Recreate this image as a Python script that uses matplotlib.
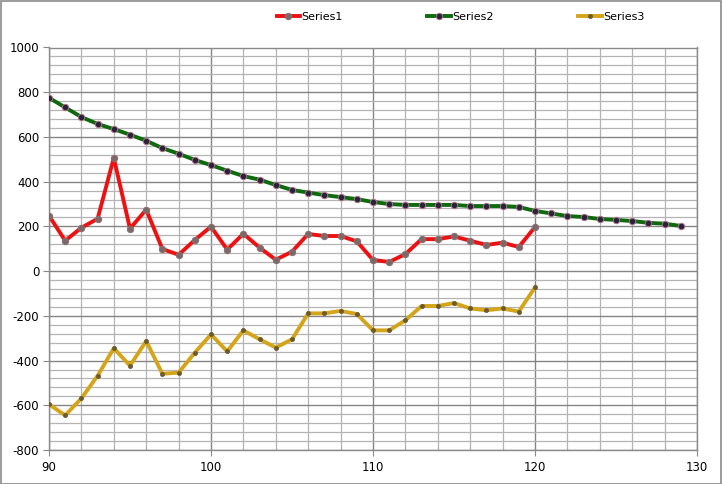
import matplotlib
matplotlib.use("Agg")
import matplotlib.pyplot as plt
from matplotlib.ticker import MultipleLocator
from matplotlib.patches import Rectangle

plt.rcParams['axes.unicode_minus'] = False
plt.rcParams['font.family'] = ['DejaVu Sans']

x_s1 = list(range(90, 121))
series1 = [248, 136, 194, 234, 506, 190, 275, 99, 73, 139, 199, 96, 167, 105, 51,
           87, 166, 157, 157, 133, 50, 41, 76, 143, 143, 155, 136, 117, 127, 108, 197]

x_s2 = list(range(90, 130))
series2 = [775, 732, 689, 658, 635, 610, 583, 550, 525, 497, 474, 449, 425, 409, 385,
           363, 351, 340, 331, 322, 309, 300, 296, 296, 296, 296, 291, 291, 291, 287,
           269, 258, 246, 242, 233, 229, 224, 216, 212, 202]

x_s3 = list(range(90, 121))
series3 = [-596, -645, -569, -468, -345, -423, -313, -459, -454, -365, -283, -359, -265,
           -305, -342, -305, -189, -189, -178, -192, -265, -265, -220, -156, -156, -143,
           -167, -175, -167, -181, -73]

labels = ["Series1", "Series2", "Series3"]

W, H = 722, 484
fig = plt.figure(figsize=(W / 100, H / 100), dpi=100)
left, right, top, bottom = 49, 697, 47.5, 450
ax = fig.add_axes([left / W, 1 - bottom / H, (right - left) / W, (bottom - top) / H])

ax.set_xlim(90, 130)
ax.set_ylim(-800, 1000)
ax.xaxis.set_major_locator(MultipleLocator(10))
ax.xaxis.set_minor_locator(MultipleLocator(2))
ax.yaxis.set_major_locator(MultipleLocator(200))
ax.yaxis.set_minor_locator(MultipleLocator(40))
ax.grid(which='minor', color='#b4b4b4', linewidth=0.9)
ax.grid(which='major', color='#858585', linewidth=1.0)
ax.set_axisbelow(True)
for s in ax.spines.values():
    s.set_color('#8a8a8a')
    s.set_linewidth(1.0)
ax.tick_params(which='minor', length=0)
ax.tick_params(which='major', length=4, color='#8a8a8a', labelsize=8.5, pad=3)
ax.tick_params(axis='x', pad=4)

ax.plot(x_s1, series1, color='#ee1111', linewidth=2.8, marker='o', markersize=4.6,
        markerfacecolor='#7c6868', markeredgecolor='#8a7070', markeredgewidth=0.7,
        label=labels[0], zorder=3)
ax.plot(x_s2, series2, color='#0d6a0d', linewidth=2.8, marker='o', markersize=4.6,
        markerfacecolor='#2a2040', markeredgecolor='#b07080', markeredgewidth=0.7,
        label=labels[1], zorder=3)
ax.plot(x_s3, series3, color='#d4a419', linewidth=2.8, marker='o', markersize=3,
        markerfacecolor='#6b5a30', markeredgecolor='#6b5a30', markeredgewidth=0.5,
        label=labels[2], zorder=3)

leg = fig.legend(loc='center', bbox_to_anchor=(0.638, 1 - 17 / H), ncol=3,
                 frameon=False, fontsize=8, handlelength=2.1, handletextpad=0.15,
                 columnspacing=7.6)

fig.add_artist(Rectangle((0.5 / W, 0.5 / H), 1 - 1.5 / W, 1 - 1.5 / H,
                         transform=fig.transFigure, fill=False,
                         edgecolor='#8a8a8a', linewidth=1.2))

fig.savefig("out.png", dpi=100)
